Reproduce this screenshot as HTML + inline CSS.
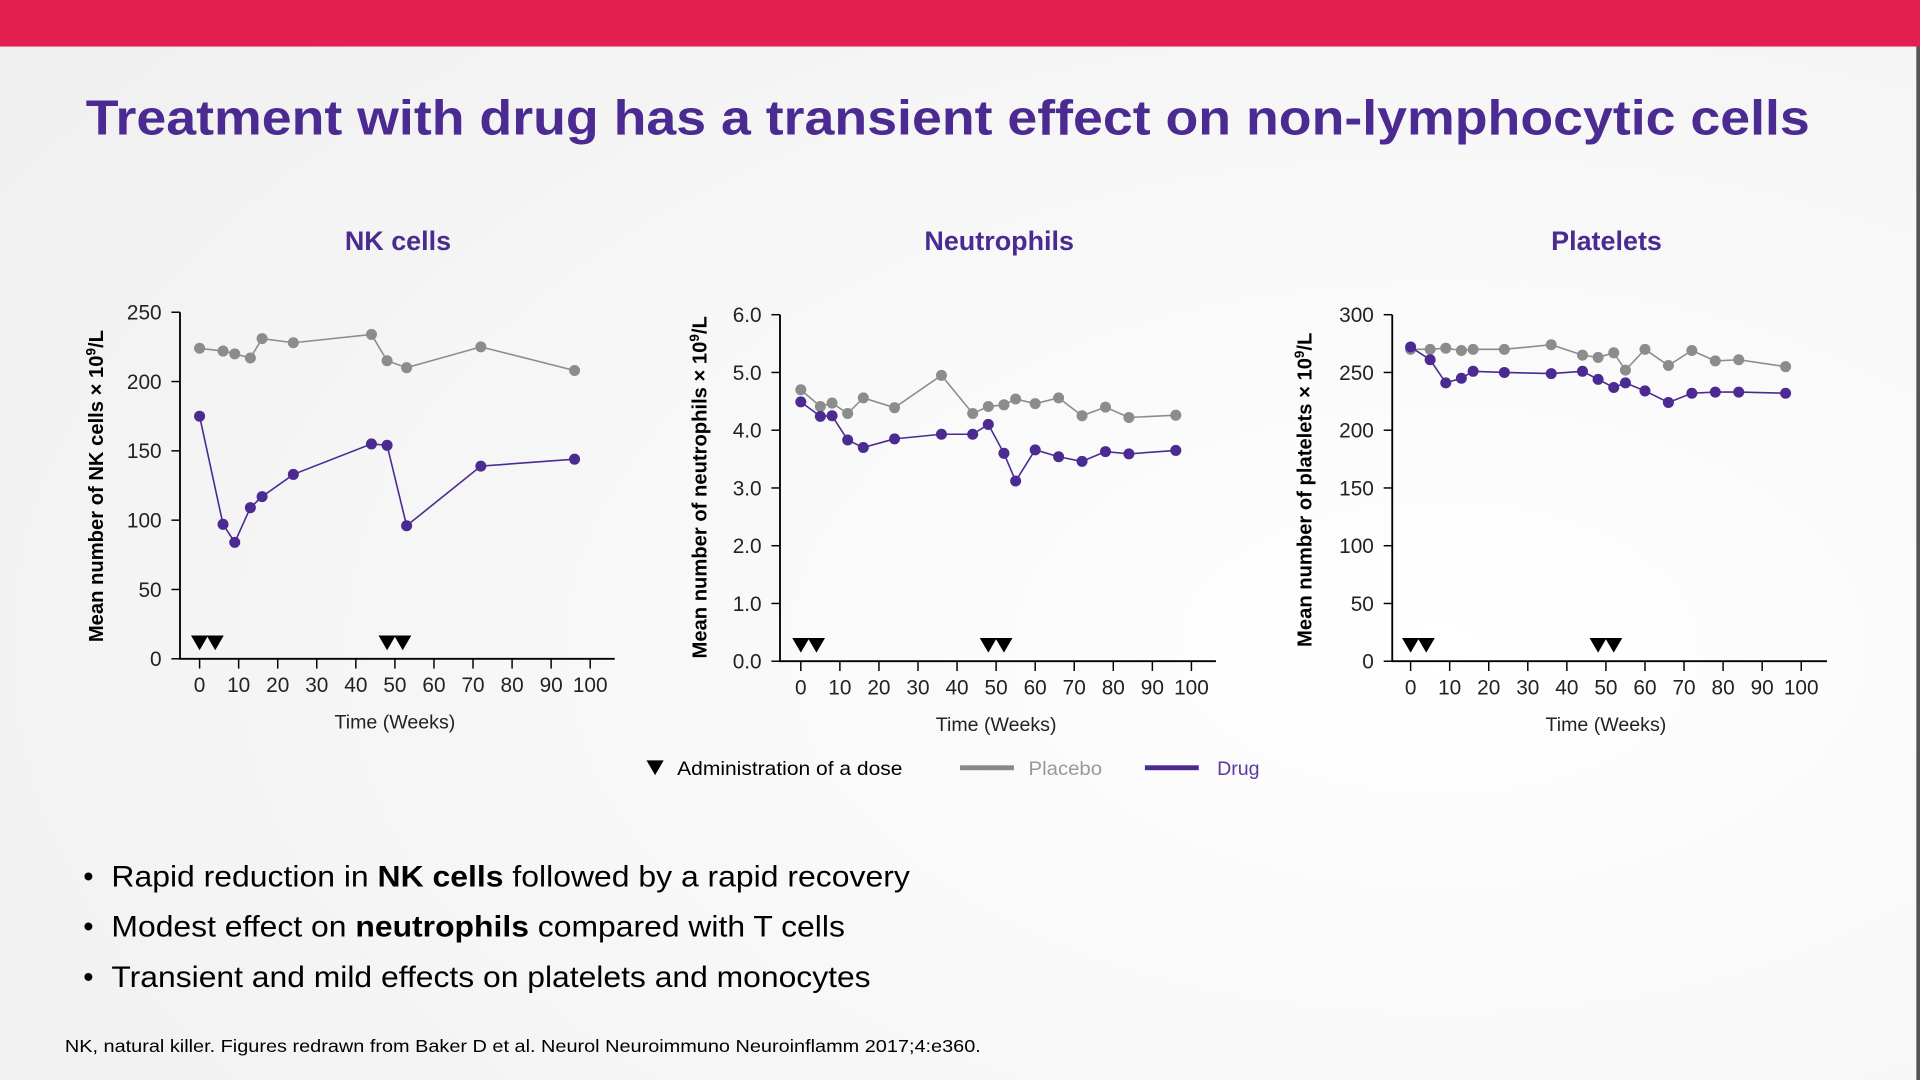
<!DOCTYPE html>
<html><head><meta charset="utf-8"><style>
html,body{margin:0;padding:0;width:1920px;height:1080px;overflow:hidden;background:#fff}
svg{display:block;font-family:"Liberation Sans",Arial,sans-serif}
</style></head><body>
<svg id="slide" width="1920" height="1080" viewBox="0 0 1568 882" xmlns="http://www.w3.org/2000/svg">
<defs><radialGradient id="bg" cx="0.75" cy="0.6" r="0.9"><stop offset="0" stop-color="#ffffff"/><stop offset="1" stop-color="#f0f0f0"/></radialGradient></defs>
<rect x="0" y="0" width="1568" height="882" fill="url(#bg)"/>
<rect x="0" y="0" width="1568" height="38" fill="#e31f4f"/>
<rect x="1565" y="38" width="3" height="844" fill="#555"/>
<text x="70" y="110" font-size="40" font-weight="bold" fill="#4b2a91" textLength="1408" lengthAdjust="spacingAndGlyphs">Treatment with drug has a transient effect on non-lymphocytic cells</text>
<g id="charts"></g>
<g font-size="16">
<path d="M528,621 L542,621 L535,633 Z" fill="#000"/>
<text x="553" y="633" fill="#000" textLength="184" lengthAdjust="spacingAndGlyphs">Administration of a dose</text>
<rect x="784" y="625" width="44" height="4" fill="#888"/>
<text x="840" y="633" fill="#999" textLength="60" lengthAdjust="spacingAndGlyphs">Placebo</text>
<rect x="935" y="625" width="44" height="4" fill="#4b2a91"/>
<text x="994" y="633" fill="#5a3aa0">Drug</text>
</g>
<g font-size="24" fill="#000">
<text x="68" y="724">•</text>
<text x="91" y="724" textLength="652" lengthAdjust="spacingAndGlyphs">Rapid reduction in <tspan font-weight="bold">NK cells</tspan> followed by a rapid recovery</text>
<text x="68" y="765">•</text>
<text x="91" y="765" textLength="599" lengthAdjust="spacingAndGlyphs">Modest effect on <tspan font-weight="bold">neutrophils</tspan> compared with T cells</text>
<text x="68" y="806">•</text>
<text x="91" y="806" textLength="620" lengthAdjust="spacingAndGlyphs">Transient and mild effects on platelets and monocytes</text>
</g>
<text x="53" y="859" font-size="14" fill="#000" textLength="748" lengthAdjust="spacingAndGlyphs">NK, natural killer. Figures redrawn from Baker D et al. Neurol Neuroimmuno Neuroinflamm 2017;4:e360.</text>
</svg>
<script>
const xTicks = [0,10,20,30,40,50,60,70,80,90,100];
const doseWeeks = [0,4,48,52];
const nkWeeks = [0,6,9,13,16,24,44,48,53,72,96];
const nkPlacebo = [224,222,220,217,231,228,234,215,210,225,208];
const nkDrug = [175,97,84,109,117,133,155,154,96,139,144];
const nkYTicks = [0,50,100,150,200,250];
const neuWeeks = [0,5,8,12,16,24,36,44,48,52,55,60,66,72,78,84,96];
const neuPlacebo = [4.70,4.41,4.47,4.29,4.56,4.39,4.95,4.29,4.41,4.44,4.54,4.46,4.56,4.25,4.40,4.22,4.26];
const neuDrug = [4.49,4.24,4.25,3.83,3.70,3.85,3.93,3.93,4.10,3.60,3.12,3.66,3.54,3.46,3.63,3.59,3.65];
const neuYTicks = [0,1,2,3,4,5,6];
const pltWeeks = [0,5,9,13,16,24,36,44,48,52,55,60,66,72,78,84,96];
const pltPlacebo = [270,270,271,269,270,270,274,265,263,267,252,270,256,269,260,261,255];
const pltDrug = [272,261,241,245,251,250,249,251,244,237,241,234,224,232,233,233,232];
const pltYTicks = [0,50,100,150,200,250,300];

const NS = 'http://www.w3.org/2000/svg';
const root = document.getElementById('charts');
function mk(tag, attrs, parent){const e=document.createElementNS(NS,tag);for(const k in attrs)e.setAttribute(k,attrs[k]);parent.appendChild(e);return e;}

function chart(cfg){
  const g = mk('g',{},root);
  
  
  const x0=cfg.x0, x100=cfg.x100, yTop=cfg.yTop, yBot=cfg.yBot, ymax=cfg.yTicks[cfg.yTicks.length-1];
  const xs = w => x0 + (x100-x0)*w/100;
  const ys = v => yBot - (yBot-yTop)*v/ymax;
  const t = mk('text',{x:cfg.titleX,y:204,'font-size':22,'font-weight':'bold',fill:'#4b2a91','text-anchor':'middle'},g);
  t.textContent = cfg.title;
  
  
  const ax = mk('path',{d:`M${cfg.axisX},${yTop} L${cfg.axisX},${yBot} L${cfg.axisEnd},${yBot}`,stroke:'#000','stroke-width':1.5,fill:'none'},g);
  
  
  cfg.yTicks.forEach(v=>{
    mk('line',{x1:cfg.axisX-7,x2:cfg.axisX,y1:ys(v),y2:ys(v),stroke:'#000','stroke-width':1.2},g);
    const l = mk('text',{x:cfg.axisX-15,y:ys(v)+6,'font-size':17,'text-anchor':'end',fill:'#222'},g);
    l.textContent = cfg.fmt(v);
    
    
  });
  xTicks.forEach(v=>{
    mk('line',{x1:xs(v),x2:xs(v),y1:yBot,y2:yBot+8,stroke:'#000','stroke-width':1.2},g);
    const l = mk('text',{x:xs(v),y:yBot+27,'font-size':17,'text-anchor':'middle',fill:'#222'},g);
    l.textContent = v;
    
    
  });
  const xl = mk('text',{x:(x0+x100)/2,y:yBot+57,'font-size':16,'text-anchor':'middle',fill:'#222'},g);
  xl.textContent = 'Time (Weeks)';
  
  
  const yl = mk('text',{x:0,y:0,'font-size':16.5,'font-weight':'bold','text-anchor':'middle',fill:'#000',transform:`translate(${cfg.ylabX},${cfg.ylabY}) rotate(-90)`},g);
  yl.innerHTML = cfg.ylab + ' × 10<tspan dy="-6" font-size="11">9</tspan><tspan dy="6">/L</tspan>';
  
  
  doseWeeks.forEach(w=>{
    const cx = xs(w);
    const tr = mk('path',{d:`M${cx-7},${yBot-19} L${cx+7},${yBot-19} L${cx},${yBot-7} Z`,fill:'#000'},g);
    
    
  });
  [[cfg.placebo,'#8c8c8c','placebo'],[cfg.drug,'#4b2a91','drug']].forEach(([vals,col,nm])=>{
    const pts = vals.map((v,i)=>xs(cfg.weeks[i])+','+ys(v)).join(' ');
    const pl = mk('polyline',{points:pts,fill:'none',stroke:col,'stroke-width':1.3},g);
    
    
    vals.forEach((v,i)=>{
      const c = mk('circle',{cx:xs(cfg.weeks[i]),cy:ys(v),r:4.5,fill:col},g);
      
      
    });
  });
}
chart({name:'nk-cells-chart',title:'NK cells',titleX:325,x0:163,x100:482,yTop:255,yBot:538,axisX:147,axisEnd:502,ylabX:84,ylabY:397,
  yTicks:nkYTicks,fmt:v=>v,weeks:nkWeeks,placebo:nkPlacebo,drug:nkDrug,ylab:'Mean number of NK cells'});
chart({name:'neutrophils-chart',title:'Neutrophils',titleX:816,x0:654,x100:973,yTop:257,yBot:540,axisX:637,axisEnd:993,ylabX:577,ylabY:398,
  yTicks:neuYTicks,fmt:v=>v.toFixed(1),weeks:neuWeeks,placebo:neuPlacebo,drug:neuDrug,ylab:'Mean number of neutrophils'});
chart({name:'platelets-chart',title:'Platelets',titleX:1312,x0:1152,x100:1471,yTop:257,yBot:540,axisX:1137,axisEnd:1492,ylabX:1071,ylabY:400,
  yTicks:pltYTicks,fmt:v=>v,weeks:pltWeeks,placebo:pltPlacebo,drug:pltDrug,ylab:'Mean number of platelets'});
</script>
</body></html>
